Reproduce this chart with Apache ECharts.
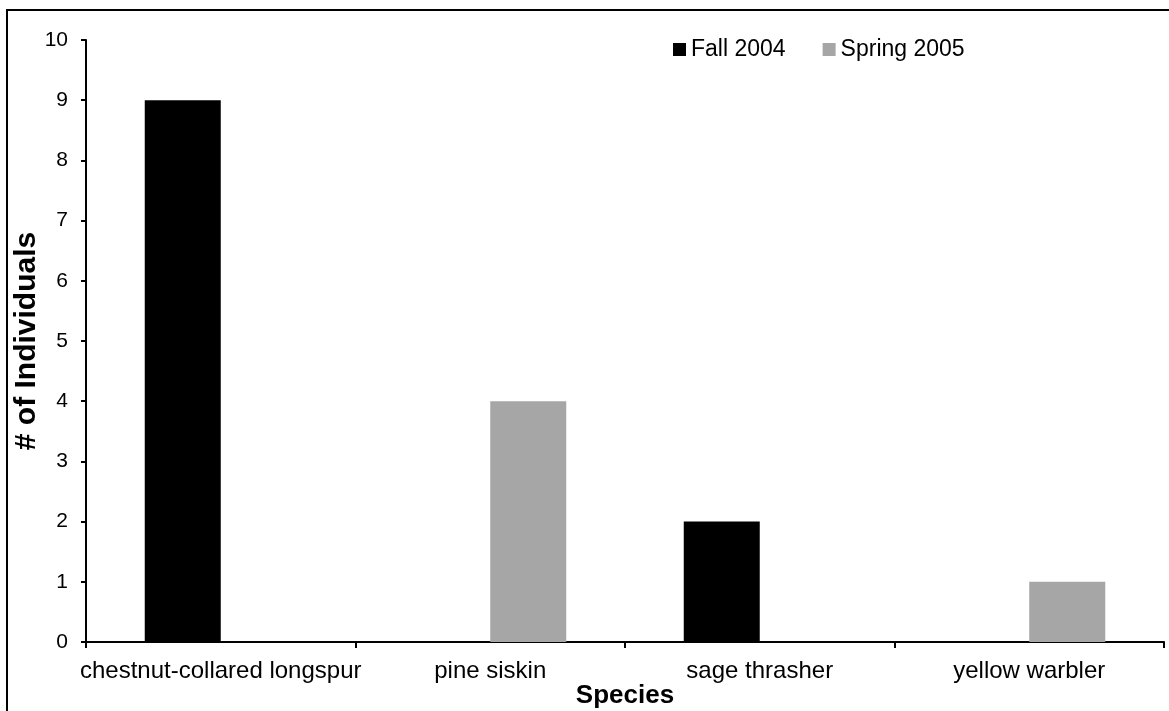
<!DOCTYPE html>
<html>
<head>
<meta charset="utf-8">
<script src="https://cdn.jsdelivr.net/npm/echarts@6/dist/echarts.min.js"></script>
<style>
  html, body { margin: 0; padding: 0; background: #fff; }
  #chart { width: 1169px; height: 711px; }
</style>
</head>
<body>
<div id="chart"></div>
<script>
// Bird species counts by season
const species = ['chestnut-collared longspur', 'pine siskin', 'sage thrasher', 'yellow warbler'];
const fall2004 = [9, 0, 2, 0];
const spring2005 = [0, 4, 0, 1];
const seriesNames = ['Fall 2004', 'Spring 2005'];
const yTicks = [0, 1, 2, 3, 4, 5, 6, 7, 8, 9, 10];

const font = 'Arial, "Liberation Sans", sans-serif';
const chart = echarts.init(document.getElementById('chart'), null, { renderer: 'canvas' });

chart.setOption({
  animation: false,
  backgroundColor: '#fff',
  textStyle: { fontFamily: font },
  graphic: [{
    type: 'rect',
    shape: { x: 7, y: 10, width: 1200, height: 740 },
    style: { fill: 'none', stroke: '#000', lineWidth: 2 },
    silent: true
  }],
  legend: {
    data: seriesNames,
    left: 673,
    top: 38,
    padding: 0,
    itemWidth: 13,
    itemHeight: 13,
    itemGap: 37,
    icon: 'rect',
    itemStyle: { borderWidth: 0 },
    textStyle: { fontFamily: font, fontSize: 23, color: '#000' }
  },
  grid: { left: 86, right: 5, top: 40, bottom: 69, containLabel: false, outerBoundsMode: 'none' },
  xAxis: {
    type: 'category',
    data: species,
    name: 'Species',
    nameLocation: 'middle',
    nameGap: 41,
    nameMoveOverlap: false,
    nameTextStyle: { fontFamily: font, fontSize: 26, fontWeight: 'bold', color: '#000' },
    axisLine: { lineStyle: { color: '#000', width: 2 } },
    axisTick: { show: true, interval: 0, alignWithLabel: false, length: 6, lineStyle: { color: '#000', width: 2 } },
    axisLabel: { interval: 0, hideOverlap: false, fontFamily: font, fontSize: 24, color: '#000', margin: 17 },
    splitLine: { show: false }
  },
  yAxis: {
    type: 'value',
    min: yTicks[0],
    max: yTicks[yTicks.length - 1],
    interval: 1,
    name: '# of Individuals',
    nameLocation: 'middle',
    nameGap: 44,
    nameMoveOverlap: false,
    nameTextStyle: { fontFamily: font, fontSize: 30, fontWeight: 'bold', color: '#000' },
    axisLine: { show: true, lineStyle: { color: '#000', width: 2 } },
    axisTick: { show: true, length: 5, lineStyle: { color: '#000', width: 2 } },
    axisLabel: { fontFamily: font, fontSize: 21, color: '#000', margin: 18 },
    splitLine: { show: false }
  },
  series: [
    {
      name: seriesNames[0],
      type: 'bar',
      data: fall2004,
      barWidth: 76,
      barGap: '0%',
      itemStyle: { color: '#000' }
    },
    {
      name: seriesNames[1],
      type: 'bar',
      data: spring2005,
      barWidth: 76,
      barGap: '0%',
      itemStyle: { color: '#a6a6a6' }
    }
  ]
});
</script>
</body>
</html>
